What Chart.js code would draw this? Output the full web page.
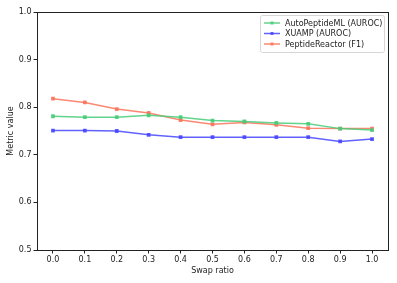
<!DOCTYPE html>
<html>
<head>
<meta charset="utf-8">
<script src="https://cdn.jsdelivr.net/npm/chart.js@4"></script>
<style>
  html, body { margin: 0; padding: 0; background: #fff; }
  #wrap { width: 397px; height: 283px; }
</style>
</head>
<body>
<div id="wrap"><canvas id="chart"></canvas></div>
<script>
/* ── data ─────────────────────────── */
const swapRatios = [0.0, 0.1, 0.2, 0.3, 0.4, 0.5, 0.6, 0.7, 0.8, 0.9, 1.0];
const autoPeptideML = [0.781, 0.779, 0.779, 0.783, 0.779, 0.772, 0.770, 0.767, 0.765, 0.755, 0.752];
const xuamp = [0.751, 0.751, 0.750, 0.742, 0.737, 0.737, 0.737, 0.737, 0.737, 0.728, 0.733];
const peptideReactor = [0.818, 0.810, 0.796, 0.788, 0.773, 0.764, 0.768, 0.763, 0.756, 0.755, 0.755];

const COLORS = {
  green: "rgba(70, 205, 120, 0.85)",
  blue: "rgba(70, 70, 255, 0.85)",
  orange: "rgba(250, 115, 90, 0.85)",
};

const FONT = "'DejaVu Sans', sans-serif";

const series = (label, values, color) => ({
  label,
  data: swapRatios.map((x, i) => ({ x, y: values[i] })),
  borderColor: color,
  backgroundColor: color,
  pointRadius: 1.6,
  pointStyle: "rect",
  borderWidth: 1.5,
  tension: 0,
});

/* frame + legend drawn like matplotlib */
const framePlugin = {
  id: "frame",
  afterDraw(chart) {
    const { ctx, chartArea: a } = chart;
    ctx.save();
    ctx.strokeStyle = "#222";
    ctx.lineWidth = 1;
    ctx.strokeRect(a.left + 0.5, a.top + 0.5, a.right - a.left, a.bottom - a.top);

    // legend
    const bx = 260, by = 15, bw = 124, bh = 37;
    ctx.fillStyle = "rgba(255,255,255,0.8)";
    ctx.strokeStyle = "#d6d6d6";
    ctx.beginPath();
    ctx.roundRect(bx + 0.5, by + 0.5, bw, bh, 2);
    ctx.fill();
    ctx.stroke();
    ctx.font = `8px ${FONT}`;
    ctx.textBaseline = "middle";
    chart.data.datasets.forEach((ds, i) => {
      const y = by + 8 + i * 10.5;
      ctx.strokeStyle = ds.borderColor;
      ctx.lineWidth = 1.5;
      ctx.beginPath();
      ctx.moveTo(264, y);
      ctx.lineTo(280, y);
      ctx.stroke();
      ctx.fillStyle = ds.borderColor;
      ctx.fillRect(270.5, y - 1.5, 3, 3);
      ctx.fillStyle = "#222";
      ctx.fillText(ds.label, 285, y + 0.5);
    });
    ctx.restore();
  },
};

new Chart(document.getElementById("chart"), {
  type: "line",
  data: {
    datasets: [
      series("AutoPeptideML (AUROC)", autoPeptideML, COLORS.green),
      series("XUAMP (AUROC)", xuamp, COLORS.blue),
      series("PeptideReactor (F1)", peptideReactor, COLORS.orange),
    ],
  },
  options: {
    responsive: true,
    maintainAspectRatio: false,
    animation: false,
    layout: { padding: { top: 12, right: 9, left: 6, bottom: 7 } },
    plugins: {
      legend: { display: false },
      tooltip: { enabled: false },
    },
    scales: {
      x: {
        type: "linear",
        min: -0.05,
        max: 1.05,
        afterBuildTicks: (axis) => {
          axis.ticks = swapRatios.map((v) => ({ value: v }));
        },
        afterFit: (axis) => {
          axis.height = 26;
        },
        ticks: {
          color: "#222",
          font: { family: FONT, size: 8 },
          padding: 2,
          maxRotation: 0,
          callback: (v) => v.toFixed(1),
        },
        grid: {
          drawOnChartArea: false,
          tickLength: 3.5,
          color: "#222",
        },
        border: { display: false },
        title: {
          display: true,
          text: "Swap ratio",
          color: "#222",
          font: { family: FONT, size: 8 },
          padding: { top: 0, bottom: 0 },
        },
      },
      y: {
        min: 0.5,
        max: 1.0,
        afterFit: (axis) => {
          axis.width = 31;
        },
        ticks: {
          stepSize: 0.1,
          color: "#222",
          font: { family: FONT, size: 8 },
          padding: 2,
          callback: (v) => v.toFixed(1),
        },
        grid: {
          drawOnChartArea: false,
          tickLength: 3.5,
          color: "#222",
        },
        border: { display: false },
        title: {
          display: true,
          text: "Metric value",
          color: "#222",
          font: { family: FONT, size: 8 },
          padding: { top: 0, bottom: 0 },
        },
      },
    },
  },
  plugins: [framePlugin],
});
</script>
</body>
</html>
